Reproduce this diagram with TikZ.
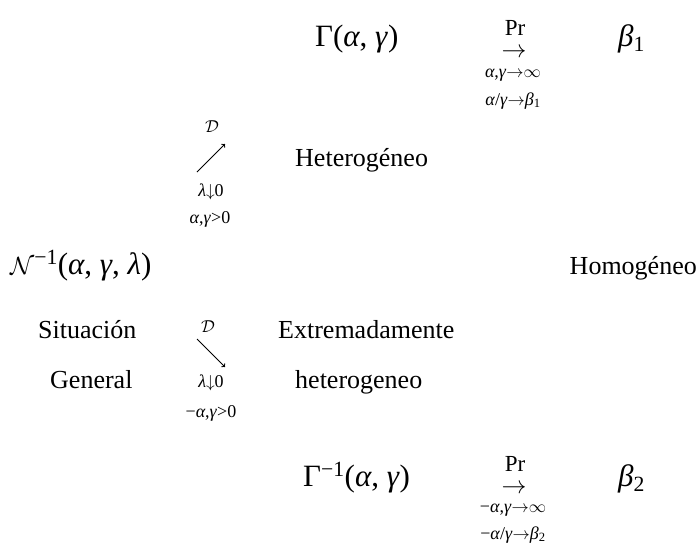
\documentclass[tikz,border=0pt]{standalone}
\usepackage{fontspec}
\setmainfont{Liberation Serif}
\newcommand{\toarr}{\mathord{\rightarrow}}
\begin{document}
\begin{tikzpicture}[
    x=1pt, y=-1pt,
    >=to,
    formula/.style={anchor=base west, inner sep=0pt, font=\fontsize{31}{34}\selectfont},
    term/.style={anchor=base west, inner sep=0pt, font=\fontsize{26}{29}\selectfont},
    prob/.style={anchor=base, inner sep=0pt, font=\fontsize{23}{26}\selectfont},
    cond/.style={anchor=base, inner sep=0pt, font=\fontsize{18}{20}\selectfont},
    diag/.style={->, line width=1pt},
]
\useasboundingbox (0,0) rectangle (700,544);

% ── General distribution (left) ──────────────────────────────
\node[formula] (gen) at (10, 274) {$\mathcal{N}$\textsuperscript{−1}(\textit{α}, \textit{γ}, \textit{λ})};
\node[term] (sit) at (38, 338) {Situación};
\node[term] (gral) at (50, 388) {General};
\node[term, anchor=base east] (homo) at (697, 274) {Homogéneo};

% ── Upper branch: Gamma ──────────────────────────────────────
\coordinate (upS) at (197, 172);
\coordinate (upE) at (225, 144);
\draw[diag] (upS) -- (upE);
\node[cond] (upD) at (212, 132) {$\mathcal{D}$};
\node[cond] (upL) at (211, 196) {\textit{λ}$\downarrow$0};
\node[cond] (upC) at (210, 223) {\textit{α},\textit{γ}>0};
\node[term] (het) at (295, 166) {Heterogéneo};

\node[formula] (gam) at (315, 46) {Γ(\textit{α}, \textit{γ})};
\node[prob] (prA) at (515, 35) {Pr};
\node[prob, anchor=center] (arA) at (514, 53) {$\rightarrow$};
\node[cond] (limA) at (513, 77) {\textit{α},\textit{γ}$\toarr\infty$};
\node[cond] (ratA) at (513, 105) {\textit{α}/\textit{γ}$\toarr$\textit{β}\textsubscript{1}};
\node[formula] (beA) at (618, 46) {\textit{β}\textsubscript{1}};

% ── Lower branch: inverse Gamma ──────────────────────────────
\coordinate (dnS) at (197, 339);
\coordinate (dnE) at (225, 367);
\draw[diag] (dnS) -- (dnE);
\node[cond] (dnD) at (208, 332) {$\mathcal{D}$};
\node[cond] (dnL) at (211, 387) {\textit{λ}$\downarrow$0};
\node[cond] (dnC) at (211, 417) {−\textit{α},\textit{γ}>0};
\node[term] (ext) at (278, 338) {Extremadamente};
\node[term] (het2) at (295, 388) {heterogeneo};

\node[formula] (igam) at (303, 486) {Γ\textsuperscript{−1}(\textit{α}, \textit{γ})};
\node[prob] (prB) at (515, 471) {Pr};
\node[prob, anchor=center] (arB) at (514, 489) {$\rightarrow$};
\node[cond] (limB) at (513, 512) {−\textit{α},\textit{γ}$\toarr\infty$};
\node[cond] (ratB) at (513, 539) {−\textit{α}/\textit{γ}$\toarr$\textit{β}\textsubscript{2}};
\node[formula] (beB) at (618, 486) {\textit{β}\textsubscript{2}};

\end{tikzpicture}
\end{document}
